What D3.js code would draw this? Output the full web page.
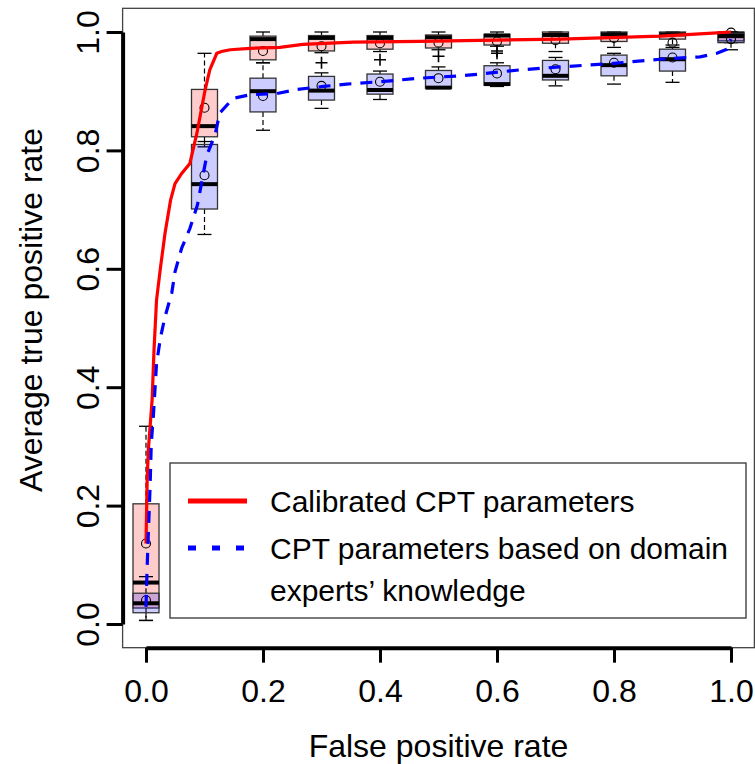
<!DOCTYPE html>
<html>
<head>
<meta charset="utf-8">
<script src="https://cdn.jsdelivr.net/npm/d3@7"></script>
<style>
  html, body { margin: 0; padding: 0; background: #fff; }
  svg { display: block; font-family: "Liberation Sans", Arial, Helvetica, sans-serif; }
</style>
</head>
<body>
<svg id="chart" width="755" height="764"></svg>
<script>
// Axis ticks
const xTicks = [0, 0.2, 0.4, 0.6, 0.8, 1.0];
const yTicks = [0, 0.2, 0.4, 0.6, 0.8, 1.0];

// False positive rates at which the boxplots are summarised
const boxFpr = [0, 0.1, 0.2, 0.3, 0.4, 0.5, 0.6, 0.7, 0.8, 0.9, 1.0];

// Calibrated CPT parameters: boxplot summaries of true positive rate
const calLow  = [0.006, 0.806, 0.948, 0.965, 0.967, 0.970, 0.976, 0.967, 0.974, 0.978, 0.982];
const calQ1   = [0.027, 0.823, 0.953, 0.968, 0.971, 0.973, 0.978, 0.981, 0.984, 0.988, 0.985];
const calMed  = [0.070, 0.841, 0.988, 0.990, 0.990, 0.991, 0.994, 0.995, 0.996, 0.996, 0.997];
const calQ3   = [0.203, 0.903, 0.993, 0.994, 0.994, 0.995, 0.996, 1.000, 1.000, 1.000, 1.000];
const calHigh = [0.334, 0.964, 1.000, 1.000, 1.000, 1.000, 1.000, 1.000, 1.000, 1.000, 1.000];
const calMean = [0.136, 0.872, 0.968, 0.976, 0.981, 0.982, 0.984, 0.986, 0.990, 0.982, 0.999];
const calOut  = [[], [], [], [0.948], [0.953], [0.959], [0.968, 0.964], [], [], [], []];

// CPT parameters from domain experts' knowledge: boxplot summaries
const expLow  = [0.006, 0.658, 0.834, 0.871, 0.886, 0.905, 0.908, 0.909, 0.912, 0.915, 0.970];
const expQ1   = [0.019, 0.701, 0.865, 0.885, 0.895, 0.905, 0.910, 0.919, 0.926, 0.934, 0.982];
const expMed  = [0.035, 0.743, 0.900, 0.901, 0.902, 0.906, 0.912, 0.926, 0.944, 0.954, 0.993];
const expQ3   = [0.052, 0.810, 0.922, 0.925, 0.929, 0.935, 0.943, 0.952, 0.961, 0.971, 0.998];
const expHigh = [0.080, 0.815, 0.948, 0.931, 0.934, 0.941, 0.948, 0.957, 0.964, 0.974, 1.000];
const expMean = [0.040, 0.758, 0.892, 0.909, 0.916, 0.922, 0.930, 0.937, 0.948, 0.957, 0.988];
const expOut  = [[], [], [], [], [], [], [], [], [], [], []];

// Average ROC curves (false positive rate, true positive rate)
const calCurveFpr = [0, 0.002, 0.004, 0.007, 0.0105, 0.0137, 0.018, 0.025, 0.0325, 0.042, 0.0496,
  0.061, 0.075, 0.087, 0.101, 0.109, 0.121, 0.129, 0.144, 0.178, 0.229, 0.268, 0.354, 0.468,
  0.571, 0.708, 0.879, 0.969, 1.0];
const calCurveTpr = [0.136, 0.243, 0.294, 0.333, 0.38, 0.463, 0.547, 0.604, 0.660, 0.716, 0.744,
  0.761, 0.778, 0.829, 0.902, 0.936, 0.964, 0.967, 0.970, 0.9725, 0.974, 0.979, 0.983, 0.984,
  0.986, 0.988, 0.993, 0.998, 1.0];
const expCurveFpr = [0, 0.002, 0.004, 0.007, 0.009, 0.0125, 0.018, 0.025, 0.0325, 0.044, 0.0496,
  0.061, 0.075, 0.088, 0.097, 0.104, 0.118, 0.126, 0.149, 0.178, 0.223, 0.258, 0.303, 0.343,
  0.40, 0.468, 0.537, 0.571, 0.639, 0.708, 0.799, 0.879, 0.947, 0.976, 0.993, 1.0];
const expCurveTpr = [0.029, 0.097, 0.153, 0.232, 0.305, 0.350, 0.440, 0.485, 0.519, 0.559, 0.595,
  0.635, 0.668, 0.708, 0.756, 0.792, 0.826, 0.863, 0.888, 0.894, 0.896, 0.903, 0.908, 0.912,
  0.916, 0.922, 0.926, 0.929, 0.936, 0.941, 0.947, 0.954, 0.958, 0.964, 0.971, 0.988];

const seriesLabels = ["Calibrated CPT parameters", "CPT parameters based on domain", "experts\u2019 knowledge"];

const svg = d3.select("#chart");
const x = d3.scaleLinear().domain([0, 1]).range([146, 731]);
const y = d3.scaleLinear().domain([0, 1]).range([624, 32]);

const plotLeft = x(-0.04), plotRight = x(1.04), plotTop = y(1.04), plotBottom = y(-0.04);

// plot frame
svg.append("rect")
  .attr("x", plotLeft).attr("y", plotTop)
  .attr("width", plotRight - plotLeft).attr("height", plotBottom - plotTop)
  .attr("fill", "none").attr("stroke", "#444").attr("stroke-width", 1.3);

// boxplots
const boxW = 26, capW = 14;
function drawBoxes(low, q1, med, q3, high, mean, outs, fill) {
  const g = svg.append("g");
  boxFpr.forEach((f, i) => {
    const cx = x(f);
    // whiskers
    g.append("line").attr("x1", cx).attr("x2", cx).attr("y1", y(q3[i])).attr("y2", y(high[i]))
      .attr("stroke", "#000").attr("stroke-width", 1.2).attr("stroke-dasharray", "5,3");
    g.append("line").attr("x1", cx).attr("x2", cx).attr("y1", y(q1[i])).attr("y2", y(low[i]))
      .attr("stroke", "#000").attr("stroke-width", 1.2).attr("stroke-dasharray", "5,3");
    [low[i], high[i]].forEach(v => {
      g.append("line").attr("x1", cx - capW / 2).attr("x2", cx + capW / 2)
        .attr("y1", y(v)).attr("y2", y(v)).attr("stroke", "#000").attr("stroke-width", 1.3);
    });
    // box
    g.append("rect").attr("x", cx - boxW / 2).attr("y", y(q3[i]))
      .attr("width", boxW).attr("height", Math.max(0.5, y(q1[i]) - y(q3[i])))
      .attr("fill", fill).attr("stroke", "#333").attr("stroke-width", 1.3);
    // median
    g.append("line").attr("x1", cx - boxW / 2).attr("x2", cx + boxW / 2)
      .attr("y1", y(med[i])).attr("y2", y(med[i]))
      .attr("stroke", "#000").attr("stroke-width", 4);
    // mean
    g.append("circle").attr("cx", cx).attr("cy", y(mean[i])).attr("r", 4.5)
      .attr("fill", "none").attr("stroke", "#000").attr("stroke-width", 1.1);
    // outliers
    outs[i].forEach(v => {
      g.append("path")
        .attr("d", `M${cx - 6},${y(v)}H${cx + 6}M${cx},${y(v) - 6}V${y(v) + 6}`)
        .attr("stroke", "#000").attr("stroke-width", 1.6);
    });
  });
}
drawBoxes(calLow, calQ1, calMed, calQ3, calHigh, calMean, calOut, "rgba(255,0,0,0.2)");
drawBoxes(expLow, expQ1, expMed, expQ3, expHigh, expMean, expOut, "rgba(0,0,255,0.2)");

// ROC curves
const line = d3.line().x(d => x(d[0])).y(d => y(d[1]));
svg.append("path")
  .attr("d", line(d3.zip(calCurveFpr, calCurveTpr)))
  .attr("fill", "none").attr("stroke", "#ff0000").attr("stroke-width", 3.2);
svg.append("path")
  .attr("d", line(d3.zip(expCurveFpr, expCurveTpr)))
  .attr("fill", "none").attr("stroke", "#0000ff").attr("stroke-width", 3.2)
  .attr("stroke-dasharray", "12,9");

// axes
const xAxis = svg.append("g").attr("transform", `translate(0,${plotBottom})`)
  .call(d3.axisBottom(x).tickValues(xTicks).tickFormat(d3.format(".1f"))
    .tickSize(15).tickSizeOuter(0).tickPadding(17));
const yAxis = svg.append("g").attr("transform", `translate(${plotLeft},0)`)
  .call(d3.axisLeft(y).tickValues(yTicks).tickFormat(d3.format(".1f"))
    .tickSize(16).tickSizeOuter(0));
[xAxis, yAxis].forEach(a => {
  a.select(".domain").attr("stroke", "#000").attr("stroke-width", 4);
  a.selectAll(".tick line").attr("stroke", "#000").attr("stroke-width", 3);
  a.selectAll("text").attr("font-size", 32).attr("fill", "#000")
    .attr("font-family", "Liberation Sans, Arial, sans-serif");
});
yAxis.selectAll(".tick text")
  .attr("x", null).attr("dy", null).attr("text-anchor", "middle")
  .attr("transform", "translate(-24,0) rotate(-90)");

// axis titles
svg.append("text").attr("x", (plotLeft + plotRight) / 2).attr("y", 757)
  .attr("text-anchor", "middle").attr("font-size", 32).text("False positive rate");
svg.append("text").attr("transform", "translate(42,310) rotate(-90)")
  .attr("text-anchor", "middle").attr("font-size", 32).text("Average true positive rate");

// legend
const lg = svg.append("g");
lg.append("rect").attr("x", 170).attr("y", 463).attr("width", 576).attr("height", 155)
  .attr("fill", "#fff").attr("stroke", "#333").attr("stroke-width", 1.3);
lg.append("line").attr("x1", 188).attr("x2", 247).attr("y1", 501).attr("y2", 501)
  .attr("stroke", "#ff0000").attr("stroke-width", 5);
lg.append("line").attr("x1", 188).attr("x2", 247).attr("y1", 548).attr("y2", 548)
  .attr("stroke", "#0000ff").attr("stroke-width", 5).attr("stroke-dasharray", "8,16");
[[511.5, 0], [558.5, 1], [600.5, 2]].forEach(([by, i]) => {
  lg.append("text").attr("x", 270).attr("y", by).attr("font-size", 30).text(seriesLabels[i]);
});
</script>
</body>
</html>
